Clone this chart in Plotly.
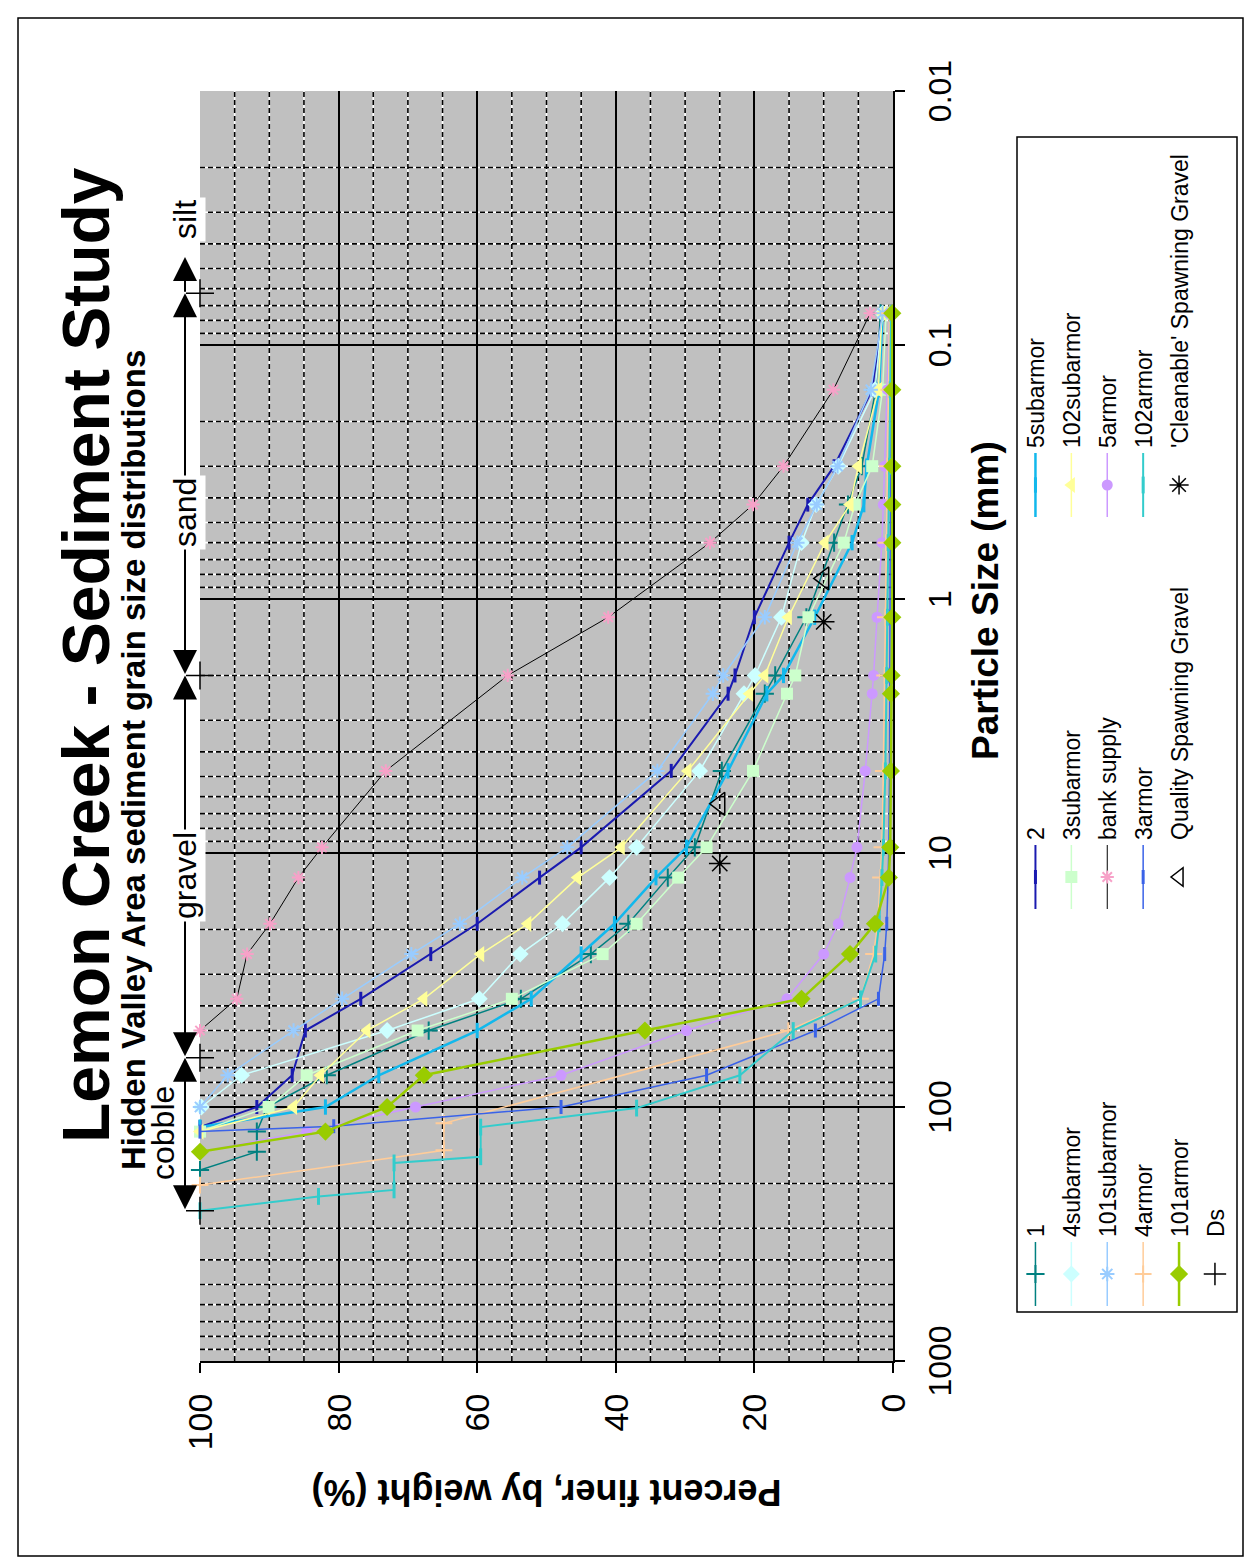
import math
import plotly.graph_objects as go

FONT = "Liberation Sans"

# ---------------- grain-size data: size (mm) vs percent finer by weight ----------------
SIZE_1 = [177, 150, 125, 100, 75, 50, 37.5, 25, 19, 12.5, 9.5, 4.75, 2.36, 2.0, 1.18, 0.6, 0.425, 0.3, 0.15, 0.075]
PCT_1 = [100, 91.8, 91.8, 90.3, 81.7, 67.0, 53.7, 43.6, 38.2, 32.5, 28.6, 24.7, 18.5, 17.0, 12.5, 8.5, 6.5, 4.5, 2.5, 1.8]

SIZE_2 = [120, 100, 75, 50, 37.5, 25, 19, 12.5, 9.5, 4.75, 2.36, 2.0, 1.18, 0.6, 0.425, 0.3, 0.15, 0.075]
PCT_2 = [100, 91.8, 86.7, 84.8, 76.8, 66.7, 60.0, 51.0, 45.0, 32.0, 23.8, 22.8, 20.0, 15.0, 12.3, 8.5, 3.0, 1.5]

SIZE_5SUB = [120, 100, 75, 50, 37.5, 25, 19, 12.5, 9.5, 4.75, 2.36, 2.0, 1.18, 0.6, 0.425, 0.3, 0.15, 0.075]
PCT_5SUB = [100, 81.9, 74.2, 60.0, 52.2, 45.0, 40.2, 34.2, 29.8, 23.8, 18.2, 15.8, 11.3, 5.9, 4.2, 3.8, 2.0, 1.5]

SIZE_4SUB = [100, 75, 50, 37.5, 25, 19, 12.5, 9.5, 4.75, 2.36, 2.0, 1.18, 0.6, 0.425, 0.3, 0.15, 0.075]
PCT_4SUB = [99.8, 94.0, 73.0, 59.7, 53.8, 47.7, 40.9, 37.0, 27.9, 21.5, 19.9, 16.1, 13.2, 11.1, 7.9, 2.6, 1.5]

SIZE_3SUB = [125, 100, 75, 50, 37.5, 25, 19, 12.5, 9.5, 4.75, 2.36, 2.0, 1.18, 0.6, 0.425, 0.3, 0.15, 0.075]
PCT_3SUB = [100, 90.1, 84.6, 68.6, 55.0, 41.9, 37.0, 31.0, 26.9, 20.2, 15.3, 14.1, 12.2, 7.1, 5.5, 3.0, 1.5, 1.0]

SIZE_102SUB = [125, 100, 75, 50, 37.5, 25, 19, 12.5, 9.5, 4.75, 2.36, 2.0, 1.18, 0.6, 0.425, 0.3, 0.15, 0.075]
PCT_102SUB = [100, 86.5, 82.6, 75.9, 67.7, 59.5, 52.7, 45.5, 39.2, 29.6, 20.7, 18.5, 15.1, 9.8, 6.2, 5.0, 2.1, 1.6]

SIZE_101SUB = [100, 75, 50, 37.5, 25, 19, 12.5, 9.5, 4.75, 2.36, 2.0, 1.18, 0.6, 0.425, 0.3, 0.15, 0.075]
PCT_101SUB = [100, 96.0, 86.5, 79.5, 69.5, 62.5, 53.5, 47.0, 34.0, 26.0, 24.5, 18.5, 13.8, 11.0, 8.0, 3.2, 1.5]

SIZE_BANK = [50, 37.5, 25, 19, 12.5, 9.5, 4.75, 2.0, 1.18, 0.6, 0.425, 0.3, 0.15, 0.075]
PCT_BANK = [100, 94.7, 93.2, 89.9, 85.8, 82.4, 73.2, 55.6, 41.1, 26.4, 20.2, 15.8, 8.6, 3.3]

SIZE_5ARM = [150, 125, 100, 75, 50, 37.5, 25, 19, 12.5, 9.5, 4.75, 2.36, 2.0, 1.18, 0.6, 0.425, 0.3, 0.15, 0.075]
PCT_5ARM = [100, 84.6, 68.9, 47.9, 29.8, 15.3, 10.0, 7.9, 6.2, 5.2, 4.0, 3.0, 2.8, 2.3, 1.6, 1.4, 1.2, 0.8, 0.5]

SIZE_4ARM = [203, 148, 116, 50, 37.5, 25, 19, 12.5, 9.5, 4.75, 2.0, 1.18, 0.6, 0.3, 0.15, 0.075]
PCT_4ARM = [100, 64.8, 64.8, 15.1, 4.7, 2.8, 2.2, 1.8, 1.6, 1.4, 1.2, 1.1, 1.0, 0.8, 0.6, 0.5]

SIZE_3ARM = [125, 119, 100, 75, 50, 37.5, 25, 19, 12.5, 9.5, 4.75, 2.0, 1.18, 0.6, 0.3, 0.15, 0.075]
PCT_3ARM = [100, 80.7, 47.9, 26.9, 11.2, 2.1, 1.2, 0.9, 0.7, 0.6, 0.5, 0.5, 0.4, 0.4, 0.3, 0.3, 0.2]

SIZE_102ARM = [256, 225, 212, 166, 157, 120, 101, 75, 50, 37.5, 25, 19, 12.5, 9.5, 4.75, 2.0, 1.18, 0.6, 0.3, 0.15, 0.075]
PCT_102ARM = [100, 82.9, 72.0, 72.0, 59.5, 59.5, 37.0, 22.1, 14.4, 4.7, 2.5, 2.0, 1.6, 1.4, 1.1, 0.9, 0.8, 0.7, 0.5, 0.4, 0.3]

SIZE_101ARM = [150, 125, 100, 75, 50, 37.5, 25, 19, 12.5, 9.5, 4.75, 2.36, 2.0, 1.18, 0.6, 0.425, 0.3, 0.15, 0.075]
PCT_101ARM = [100, 81.9, 73.0, 67.7, 35.8, 13.2, 6.2, 2.6, 0.6, 0.4, 0.3, 0.3, 0.2, 0.1, 0.1, 0.1, 0.1, 0.1, 0.1]

# spawning-gravel criteria (D25 and D10)
QUALITY_SIZE = [6.4, 0.83]
QUALITY_PCT = [25, 10]
CLEANABLE_SIZE = [11, 1.23]
CLEANABLE_PCT = [25, 10]

# Wentworth class boundaries (mm)
DS_SIZE = [256, 64, 2, 0.0625]
DS_PCT = [100, 100, 100, 100]
CLASS_NAMES = ["cobble", "gravel", "sand", "silt"]
CLASS_RANGES = [(256, 64), (64, 2), (2, 0.0625), (0.0625, 0.045)]

# axis ticks
X_TICKS = [1000, 100, 10, 1, 0.1, 0.01]
X_TICK_TEXT = ["1000", "100", "10", "1", "0.1", "0.01"]
Y_TICKS = [0, 20, 40, 60, 80, 100]

# ---------------- page geometry (figure is drawn landscape, shown turned) ----------------
W, H = 1568, 1254
ML, MR, MT, MB = 207, 91, 200, 361
PW, PH = W - ML - MR, H - MT - MB
X_RANGE = [3, -2]  # log10 of 1000 .. 0.01


def px(x):
    return (x - ML) / PW


def py(y):
    return (H - MB - y) / PH


def fx(size):
    return (X_RANGE[0] - math.log10(size)) / (X_RANGE[0] - X_RANGE[1])


# name, sizes, percents, line colour, line width, marker symbol, marker size, marker colour, legend
STYLE = [
    ("1", SIZE_1, PCT_1, "#008080", 1.5, "cross-thin", 13, "#008080", "legend"),
    ("2", SIZE_2, PCT_2, "#1A1AB0", 2, "line-ew", 10, "#1A1AB0", "legend2"),
    ("5subarmor", SIZE_5SUB, PCT_5SUB, "#12B8EC", 2.5, "line-ew", 11, "#12B8EC", "legend3"),
    ("4subarmor", SIZE_4SUB, PCT_4SUB, "#CCFFFF", 1.5, "diamond", 13, "#CCFFFF", "legend"),
    ("3subarmor", SIZE_3SUB, PCT_3SUB, "#CCFFCC", 1.5, "square", 12, "#CCFFCC", "legend2"),
    ("102subarmor", SIZE_102SUB, PCT_102SUB, "#FFFF99", 1.5, "triangle-up", 14, "#FFFF99", "legend3"),
    ("101subarmor", SIZE_101SUB, PCT_101SUB, "#99CCFF", 1.5, "asterisk", 12, "#99CCFF", "legend"),
    ("bank supply", SIZE_BANK, PCT_BANK, "#000000", 1, "asterisk", 11, "#F7A1C8", "legend2"),
    ("5armor", SIZE_5ARM, PCT_5ARM, "#CC99FF", 1.5, "circle", 11, "#CC99FF", "legend3"),
    ("4armor", SIZE_4ARM, PCT_4ARM, "#FFCC99", 1.5, "cross-thin", 12, "#FFCC99", "legend"),
    ("3armor", SIZE_3ARM, PCT_3ARM, "#3A62E8", 1.5, "line-ew", 10, "#3A62E8", "legend2"),
    ("102armor", SIZE_102ARM, PCT_102ARM, "#33CCCC", 2, "line-ew", 12, "#33CCCC", "legend3"),
    ("101armor", SIZE_101ARM, PCT_101ARM, "#99CC00", 2.5, "diamond", 14, "#99CC00", "legend"),
]

LINE_SYMBOLS = {"cross-thin", "line-ew", "asterisk"}

fig = go.Figure()

for name, xs, ys, lc, lw, sym, ms, mc, leg in STYLE:
    if sym in LINE_SYMBOLS:
        marker = dict(symbol=sym, size=ms, color=mc, line=dict(color=mc, width=3 if sym == "line-ew" else 2))
    else:
        marker = dict(symbol=sym, size=ms, color=mc, line=dict(color=mc, width=0))
    fig.add_trace(go.Scatter(
        x=xs, y=ys, name=name, mode="lines+markers",
        line=dict(color=lc, width=lw), marker=marker,
        legend=leg, legendgroup=name, cliponaxis=False,
    ))

fig.add_trace(go.Scatter(
    x=QUALITY_SIZE, y=QUALITY_PCT, name="Quality Spawning Gravel", mode="markers",
    marker=dict(symbol="triangle-up-open", size=20, color="black", line=dict(color="black", width=1.5)),
    legend="legend2", legendgroup="quality", cliponaxis=False,
))
fig.add_trace(go.Scatter(
    x=CLEANABLE_SIZE, y=CLEANABLE_PCT, name="'Cleanable' Spawning Gravel", mode="markers",
    marker=dict(symbol="asterisk-open", size=18, color="black", line=dict(color="black", width=1.5)),
    legend="legend3", legendgroup="cleanable", cliponaxis=False,
))
fig.add_trace(go.Scatter(
    x=DS_SIZE, y=DS_PCT, name="Ds", mode="markers",
    marker=dict(symbol="cross-thin-open", size=20, color="black", line=dict(color="black", width=1.5)),
    legend="legend", legendgroup="ds", cliponaxis=False,
))

# ---------------- minor grid: black dashes over white, like a two-tone dashed rule ----------------
shapes = []
minor_x = [m * 10 ** d for d in range(-2, 3) for m in range(2, 10) if m * 10 ** d < 1000]
minor_y = [p for p in range(5, 100, 5) if p % 20 != 0]
for col, dash in (("white", "solid"), ("black", "5px,3px")):
    for s in minor_x:
        shapes.append(dict(type="line", xref="paper", yref="paper", x0=fx(s), x1=fx(s), y0=0, y1=1,
                           line=dict(color=col, width=1.6, dash=dash), layer="below"))
    for p in minor_y:
        shapes.append(dict(type="line", xref="paper", yref="paper", x0=0, x1=1, y0=p / 100, y1=p / 100,
                           line=dict(color=col, width=1.6, dash=dash), layer="below"))

# legend box and outer frame
shapes.append(dict(type="rect", xref="paper", yref="paper", x0=px(256), x1=px(1431), y0=py(1017), y1=py(1237),
                   line=dict(color="black", width=1.5), fillcolor="rgba(0,0,0,0)"))
shapes.append(dict(type="rect", xref="paper", yref="paper", x0=px(12), x1=px(1550), y0=py(18), y1=py(1243),
                   line=dict(color="black", width=1.5), fillcolor="rgba(0,0,0,0)"))

# ---------------- annotations ----------------
ann = [
    dict(text="Lemon Creek - Sediment Study", x=px(913), y=py(86), xref="paper", yref="paper",
         xanchor="center", yanchor="middle", showarrow=False,
         font=dict(family=FONT, size=66, color="black", weight="bold")),
    dict(text="Hidden Valley Area sediment grain size distributions", x=px(808), y=py(134),
         xref="paper", yref="paper", xanchor="center", yanchor="middle", showarrow=False,
         font=dict(family=FONT, size=33, color="black", weight="bold")),
    dict(text="Particle Size (mm)", x=px(967), y=py(985), xref="paper", yref="paper",
         xanchor="center", yanchor="middle", showarrow=False,
         font=dict(family=FONT, size=37, color="black", weight="bold")),
]

ROW_Y = 185
for name, (a, b) in zip(CLASS_NAMES, CLASS_RANGES):
    ann.append(dict(
        text="", x=fx(b), y=py(ROW_Y), xref="paper", yref="paper",
        ax=(fx(a) - fx(b)) * PW, ay=0, axref="pixel", ayref="pixel",
        showarrow=True, arrowhead=2, startarrowhead=2,
        arrowside="end+start" if name != "silt" else "end",
        arrowsize=2.4, startarrowsize=2.4, arrowwidth=2, arrowcolor="black",
        standoff=0, startstandoff=0,
    ))

LABEL_POS = {"cobble": (435, 163, False), "gravel": (692, ROW_Y, True),
             "sand": (1055, ROW_Y, True), "silt": (1348, ROW_Y, True)}
for name in CLASS_NAMES:
    x0, y0, masked = LABEL_POS[name]
    ann.append(dict(text=name, x=px(x0), y=py(y0), xref="paper", yref="paper",
                    xanchor="center", yanchor="middle", showarrow=False,
                    bgcolor="white" if masked else "rgba(0,0,0,0)", borderpad=2,
                    font=dict(family=FONT, size=32, color="black")))

LEG_FONT = dict(family=FONT, size=23, color="black")


def legend_at(x_left):
    return dict(x=px(x_left), y=py(1014), xref="paper", yref="paper", xanchor="left", yanchor="top",
                orientation="v", font=LEG_FONT, bgcolor="rgba(0,0,0,0)", borderwidth=0,
                itemwidth=64, tracegroupgap=3, traceorder="grouped", itemsizing="trace")


fig.update_layout(
    width=W, height=H,
    margin=dict(l=ML, r=MR, t=MT, b=MB, autoexpand=False),
    paper_bgcolor="white", plot_bgcolor="#C0C0C0",
    font=dict(family=FONT, color="black"),
    showlegend=True,
    legend=legend_at(257),
    legend2=legend_at(654),
    legend3=legend_at(1046),
    xaxis=dict(
        type="log", range=X_RANGE, tickvals=X_TICKS, ticktext=X_TICK_TEXT,
        showgrid=True, gridcolor="black", gridwidth=1.6, zeroline=False,
        showline=True, linecolor="black", linewidth=1.6,
        ticks="outside", ticklen=10, tickcolor="black", tickwidth=1.5,
        ticklabelstandoff=8, tickfont=dict(family=FONT, size=32, color="black"),
    ),
    yaxis=dict(
        range=[0, 100], tickvals=Y_TICKS, showgrid=True, gridcolor="black", gridwidth=1.6,
        zeroline=False, showline=True, linecolor="black", linewidth=1.6,
        ticks="outside", ticklen=10, tickcolor="black", tickwidth=1.5,
        ticklabelstandoff=14, tickfont=dict(family=FONT, size=34, color="black"),
        title=dict(text="Percent finer, by weight (%)", standoff=18,
                   font=dict(family=FONT, size=36, color="black", weight="bold")),
    ),
    shapes=shapes,
    annotations=ann,
)

# the sheet is printed turned a quarter-turn counter-clockwise on a portrait page
TURN_PAGE = """
var gd = document.getElementById('{plot_id}');
document.documentElement.style.margin = '0';
document.documentElement.style.overflow = 'hidden';
document.body.style.margin = '0';
document.body.style.overflow = 'hidden';
document.body.style.background = 'white';
gd.style.position = 'absolute';
gd.style.left = '0px';
gd.style.top = '0px';
gd.style.width = '1568px';
gd.style.height = '1254px';
gd.style.transformOrigin = '0 0';
gd.style.transform = 'translate(0px, 1568px) rotate(-90deg)';
"""

fig.write_html("out.html", post_script=TURN_PAGE)
